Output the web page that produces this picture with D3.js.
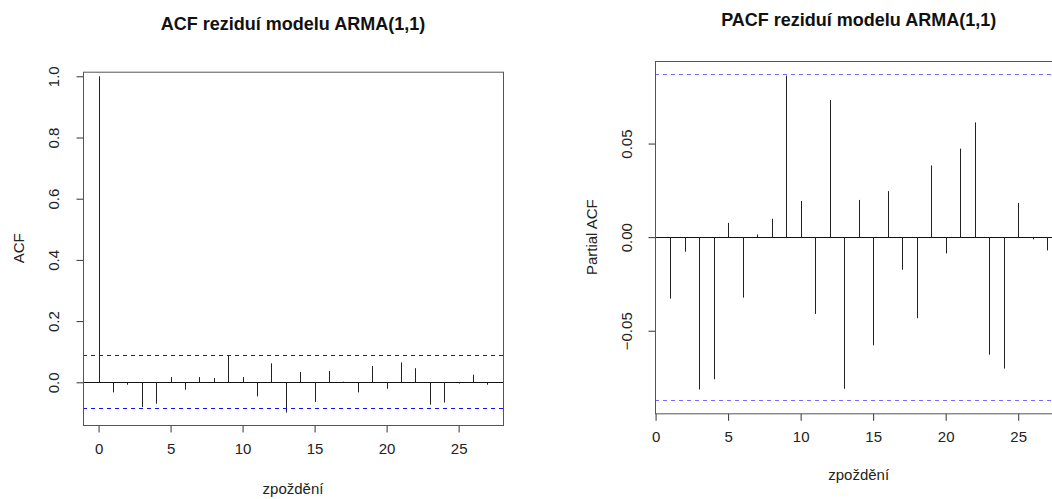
<!DOCTYPE html>
<html>
<head>
<meta charset="utf-8">
<script src="https://cdn.jsdelivr.net/npm/d3@7"></script>
<style>
  body { margin: 0; background: #fff; }
  svg { display: block; font-family: "Liberation Sans", Arial, sans-serif; }
</style>
</head>
<body>
<svg id="chart"></svg>
<script>
// lags and values
const acfLags = [0, 1, 2, 3, 4, 5, 6, 7, 8, 9, 10, 11, 12, 13, 14, 15, 16, 17, 18, 19, 20, 21, 22, 23, 24, 25, 26, 27];
const acfValues = [1.000, -0.033, -0.008, -0.081, -0.070, 0.017, -0.024, 0.017, 0.014, 0.089, 0.017, -0.046, 0.062, -0.099,
  0.034, -0.064, 0.037, 0.002, -0.033, 0.053, -0.021, 0.065, 0.046, -0.073, -0.066, -0.004, 0.025, -0.008];
const pacfLags = [1, 2, 3, 4, 5, 6, 7, 8, 9, 10, 11, 12, 13, 14, 15, 16, 17, 18, 19, 20, 21, 22, 23, 24, 25, 26, 27];
const pacfValues = [-0.0328, -0.0078, -0.0814, -0.0759, 0.0076, -0.0323, 0.0014, 0.0098, 0.0863, 0.0193, -0.0410, 0.0732,
  -0.0810, 0.0199, -0.0578, 0.0246, -0.0174, -0.0433, 0.0383, -0.0087, 0.0473, 0.0613, -0.0628, -0.0702, 0.0183, -0.0012, -0.0071];
const confLimit = 0.0871;
const xTicks = [0, 5, 10, 15, 20, 25];
const acfTicks = [0.0, 0.2, 0.4, 0.6, 0.8, 1.0];
const pacfTicks = [-0.05, 0.00, 0.05];

const width = 1052, height = 499;
const svg = d3.select("#chart").attr("width", width).attr("height", height);
svg.append("rect").attr("width", width).attr("height", height).attr("fill", "#fff");

function drawPanel(opt) {
  const x = d3.scaleLinear().domain(opt.xDomain).range(opt.xRange);
  const y = d3.scaleLinear().domain(opt.yDomain).range(opt.yRange);
  const g = svg.append("g");
  const [x0, x1] = opt.xRange;
  const [yb, yt] = opt.yRange;

  // x axis
  const xAxis = g.append("g").attr("transform", `translate(0,${yb + 0.5})`)
    .call(d3.axisBottom(x).tickValues(xTicks).tickSize(7).tickPadding(11).tickFormat(d3.format("d")));
  xAxis.select(".domain").remove();
  xAxis.selectAll("line").attr("stroke", "#333");
  xAxis.selectAll("text").attr("font-size", 15).attr("fill", "#222")
    .attr("font-family", "Liberation Sans, Arial, sans-serif");

  // y axis (labels rotated like R)
  const yAxis = g.append("g").attr("transform", `translate(${x0 + 0.5},0)`)
    .call(d3.axisLeft(y).tickValues(opt.yTicks).tickSize(7).tickFormat(opt.yFormat));
  yAxis.select(".domain").remove();
  yAxis.selectAll("line").attr("stroke", "#333");
  yAxis.selectAll("text").attr("font-size", 15).attr("fill", "#222")
    .attr("font-family", "Liberation Sans, Arial, sans-serif")
    .attr("text-anchor", "middle").attr("x", null).attr("dy", null)
    .attr("transform", `translate(${opt.yLabelX - x0},0) rotate(-90)`)
    .attr("dominant-baseline", "middle");

  // zero line
  g.append("line").attr("x1", x0).attr("x2", x1)
    .attr("y1", Math.round(y(0)) + 0.5).attr("y2", Math.round(y(0)) + 0.5)
    .attr("stroke", "#111");

  // spikes
  g.selectAll(".spike").data(opt.values).enter().append("line")
    .attr("class", "spike")
    .attr("x1", (d, i) => Math.round(x(opt.lags[i])) + 0.5)
    .attr("x2", (d, i) => Math.round(x(opt.lags[i])) + 0.5)
    .attr("y1", y(0)).attr("y2", d => y(d))
    .attr("stroke", "#222");

  // confidence limits
  [confLimit, -confLimit].forEach(c => {
    const yy = Math.floor(y(c)) + 0.5;
    g.append("path")
      .attr("d", `M${x0},${yy}H${x1}`)
      .attr("fill", "none")
      .attr("shape-rendering", "crispEdges")
      .style("stroke", opt.ciColor)
      .style("stroke-dasharray", "4,4");
  });

  // frame
  g.append("rect").attr("x", x0 + 0.5).attr("y", yt + 0.5)
    .attr("width", x1 - x0).attr("height", yb - yt)
    .attr("fill", "none").attr("stroke", "#555");

  // titles
  const cx = (x0 + x1) / 2;
  g.append("text").attr("x", cx).attr("y", opt.titleY).attr("text-anchor", "middle")
    .attr("font-size", 18).attr("font-weight", "bold").attr("fill", "#111").text(opt.title);
  g.append("text").attr("x", cx).attr("y", opt.xLabelY).attr("text-anchor", "middle")
    .attr("font-size", 15).attr("fill", "#222").text("zpoždění");
  g.append("text").attr("transform", `translate(${opt.yTitleX},${(yb + yt) / 2}) rotate(-90)`)
    .attr("text-anchor", "middle").attr("dominant-baseline", "middle")
    .attr("font-size", 15).attr("fill", "#222").text(opt.yTitle);
}

drawPanel({
  lags: acfLags, values: acfValues,
  xDomain: [-1.08, 28.08], xRange: [83, 503],
  yDomain: [-0.1395, 1.015], yRange: [425, 71.7],
  yTicks: acfTicks, yFormat: d3.format(".1f"), yLabelX: 55,
  ciColor: "#1010ff",
  title: "ACF reziduí modelu ARMA(1,1)", titleY: 30, xLabelY: 494,
  yTitle: "ACF", yTitleX: 20
});

drawPanel({
  lags: pacfLags, values: pacfValues,
  xDomain: [-0.04, 28.04], xRange: [655, 1062.3],
  yDomain: [-0.0941, 0.0941], yRange: [413.3, 61],
  yTicks: pacfTicks, yFormat: d3.format(".2f"), yLabelX: 628,
  ciColor: "#6f6fff",
  title: "PACF reziduí modelu ARMA(1,1)", titleY: 26, xLabelY: 480,
  yTitle: "Partial ACF", yTitleX: 593
});
</script>
</body>
</html>
